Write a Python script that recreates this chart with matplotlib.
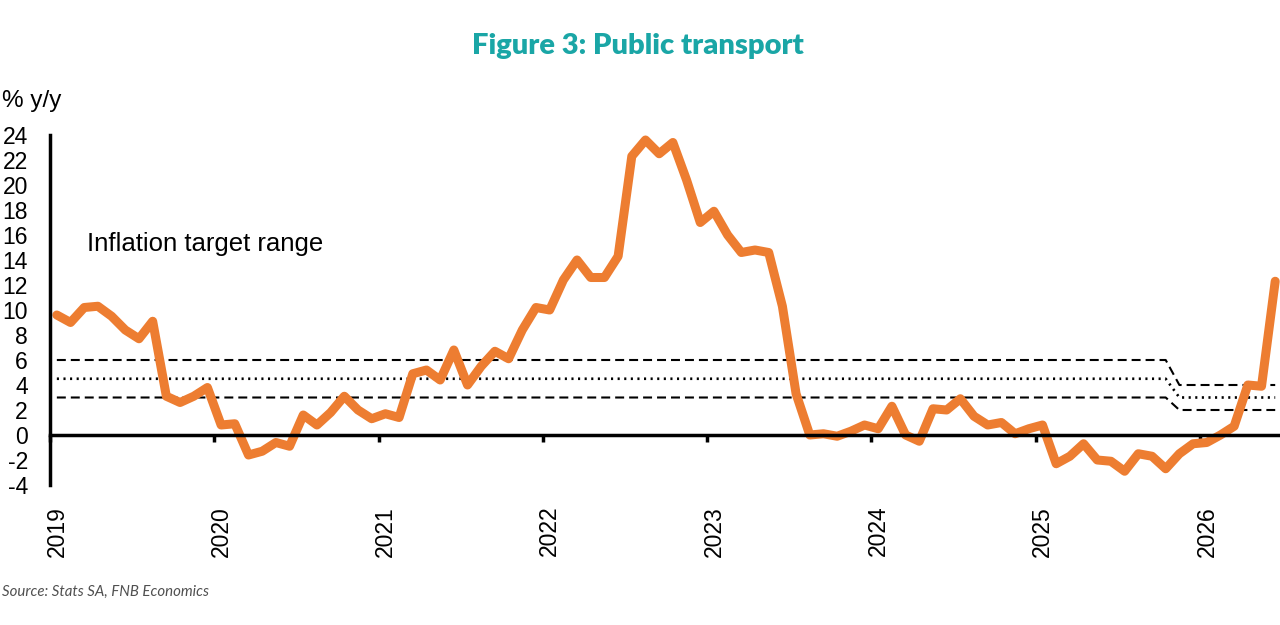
import matplotlib
matplotlib.use("Agg")
import matplotlib.pyplot as plt
from matplotlib.transforms import ScaledTranslation

# monthly public transport inflation, % y/y, Jan 2019 - Jun 2026
transport = [
    9.6, 9.0, 10.2, 10.3, 9.5, 8.4, 7.7, 9.1, 3.1, 2.6, 3.1, 3.8,      # 2019
    0.8, 0.9, -1.6, -1.3, -0.6, -0.9, 1.6, 0.8, 1.8, 3.1, 2.0, 1.3,    # 2020
    1.7, 1.4, 4.9, 5.2, 4.4, 6.8, 4.0, 5.5, 6.7, 6.1, 8.4, 10.2,       # 2021
    10.0, 12.4, 14.0, 12.6, 12.6, 14.3, 22.3, 23.6, 22.5, 23.4, 20.4, 17.0,  # 2022
    17.9, 16.0, 14.6, 14.8, 14.6, 10.3, 3.3, 0.0, 0.1, -0.1, 0.3, 0.8,  # 2023
    0.5, 2.3, 0.0, -0.5, 2.1, 2.0, 2.9, 1.5, 0.8, 1.0, 0.1, 0.5,       # 2024
    0.8, -2.3, -1.7, -0.7, -2.0, -2.1, -2.9, -1.5, -1.7, -2.7, -1.5, -0.7,  # 2025
    -0.6, 0.0, 0.7, 4.0, 3.9, 12.3,                                     # 2026
]
# SARB target band: 3-6% (mid 4.5) until Oct 2025, then 3% +/- 1
target_upper = [6.0] * 82 + [4.0] * 8
target_mid = [4.5] * 82 + [3.0] * 8
target_lower = [3.0] * 82 + [2.0] * 8

years = ["2019", "2020", "2021", "2022", "2023", "2024", "2025", "2026"]
y_ticks = list(range(-4, 25, 2))

x = [i + 0.5 for i in range(len(transport))]

plt.rcParams['font.family'] = ['Liberation Sans', 'DejaVu Sans']

fig = plt.figure(figsize=(12.8, 6.25), dpi=100)
ax = fig.add_axes([50 / 1280, 140 / 625, 1230 / 1280, 350 / 625])

# spine position first, it resets the tick settings
ax.spines['top'].set_visible(False)
ax.spines['right'].set_visible(False)
ax.spines['left'].set_linewidth(2.5)
ax.spines['bottom'].set_position(('data', 0))
ax.spines['bottom'].set_linewidth(2.5)

ax.plot(x, target_upper, color='black', lw=1.5, dashes=(4.3, 2.4))
ax.plot(x, target_lower, color='black', lw=1.5, dashes=(4.3, 2.4))
ax.plot(x, target_mid, color='black', lw=1.9, dashes=(0.8, 1.7))
ax.plot(x, transport, color='#ED7D31', lw=6.5, solid_capstyle='round',
        solid_joinstyle='round')

ax.set_xlim(0, 89.85)
ax.set_ylim(-4, 24)
ax.set_yticks(y_ticks)
ax.set_yticklabels([str(v) for v in y_ticks], fontsize=16.5)
ax.set_xticks([12 * k for k in range(len(years))])
ax.set_xticklabels(years, rotation=90, fontsize=16.5, va='top')
ax.tick_params(axis='y', length=0, pad=16)
ax.tick_params(axis='x', direction='out', length=5, width=2.5, pad=46)

# year labels sit a little right of their ticks in the original
shift = ScaledTranslation(7 / 100, 0, fig.dpi_scale_trans)
for lbl in ax.get_xticklabels():
    lbl.set_transform(lbl.get_transform() + shift)

ax.text(2.7, 15.3, "Inflation target range", fontsize=18.5, va='center')

fig.text(2 / 1280, 1 - 101 / 625, "% y/y", fontsize=17.5, va='center')
fig.text(638 / 1280, 1 - 46 / 625, "Figure 3: Public transport", fontsize=21,
         fontweight='heavy', color='#1AA6A6', ha='center', va='center',
         family=['Lato', 'DejaVu Sans'])
fig.text(2 / 1280, 1 - 592 / 625, "Source: Stats SA, FNB Economics", fontsize=10.8,
         style='italic', color='#505050', va='center',
         family=['Lato', 'DejaVu Sans'])

fig.savefig("out.png", dpi=100)
